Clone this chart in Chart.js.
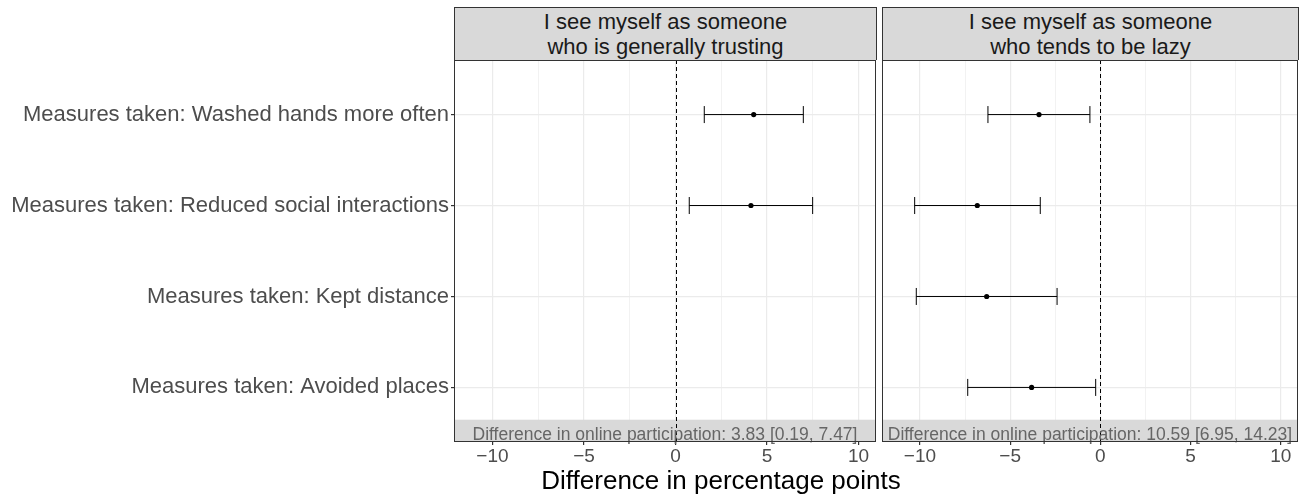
<!DOCTYPE html>
<html>
<head>
<meta charset="utf-8">
<script src="https://cdn.jsdelivr.net/npm/chart.js@4"></script>
<style>
  body { margin: 0; background: #fff; font-family: "Liberation Sans", Arial, sans-serif; }
  #wrap { position: relative; width: 1311px; height: 497px; overflow: hidden; }
  canvas { position: absolute; top: 0; }
  .strip {
    position: absolute; top: 7px; height: 53px; box-sizing: border-box;
    background: #d9d9d9; border: 1px solid #333; border-bottom: none;
    text-align: center; font-size: 22px; line-height: 24.5px; color: #1a1a1a; padding-top: 2px;
  }
  #xtitle {
    position: absolute; left: 421px; width: 600px; top: 467px;
    text-align: center; font-size: 26px; line-height: 26px; color: #000;
  }
</style>
</head>
<body>
<div id="wrap">
  <canvas id="trust" width="878" height="497" style="left:0"></canvas>
  <canvas id="lazy" width="431" height="497" style="left:880px"></canvas>
  <div class="strip" id="strip0" style="left:454px; width:423px"></div>
  <div class="strip" id="strip1" style="left:882px; width:417px"></div>
  <div id="xtitle">Difference in percentage points</div>
</div>
<script>
// data
const measures = [
  "Measures taken: Washed hands more often",
  "Measures taken: Reduced social interactions",
  "Measures taken: Kept distance",
  "Measures taken: Avoided places"
];
const panelTitles = [
  ["I see myself as someone", "who is generally trusting"],
  ["I see myself as someone", "who tends to be lazy"]
];
const trustEst  = [4.27, 4.12, null, null];
const trustLow  = [1.57, 0.75, null, null];
const trustHigh = [6.98, 7.49, null, null];
const lazyEst  = [-3.40, -6.82, -6.30, -3.81];
const lazyLow  = [-6.23, -10.29, -10.20, -7.35];
const lazyHigh = [-0.58, -3.33, -2.40, -0.26];
const onlineDiff = [3.83, 10.59];
const onlineLow  = [0.19, 6.95];
const onlineHigh = [7.47, 14.23];
const xGrid = [-10, -7.5, -5, -2.5, 0, 2.5, 5, 7.5, 10];

panelTitles.forEach((t, i) => {
  document.getElementById("strip" + i).innerHTML = t.join("<br>");
});

const FONT = "'Liberation Sans', Arial, sans-serif";

const fmt = v => (v < 0 ? "\u2212" + Math.abs(v) : String(v));

// grey band + dashed zero line + border
const panelDeco = {
  id: "panelDeco",
  beforeDatasetsDraw(chart, args, opts) {
    const { ctx, chartArea: a, scales: { x, y } } = chart;
    ctx.save();
    const bandTop = y.getPixelForValue(3.355);
    ctx.fillStyle = "#d9d9d9";
    ctx.fillRect(a.left, bandTop, a.right - a.left, a.bottom - bandTop);
    // zero line
    const x0 = Math.round(x.getPixelForValue(0)) + 0.5;
    ctx.strokeStyle = "#000";
    ctx.lineWidth = 1;
    ctx.setLineDash([4, 3]);
    ctx.beginPath();
    ctx.moveTo(x0, a.top);
    ctx.lineTo(x0, a.bottom);
    ctx.stroke();
    ctx.setLineDash([]);
    // band label
    const k = opts.idx;
    ctx.fillStyle = "#666";
    ctx.font = "17.5px " + FONT;
    ctx.textAlign = "center";
    ctx.textBaseline = "alphabetic";
    ctx.fillText(
      "Difference in online participation: " + onlineDiff[k].toFixed(2) +
      " [" + onlineLow[k].toFixed(2) + ", " + onlineHigh[k].toFixed(2) + "]",
      (a.left + a.right) / 2, y.getPixelForValue(3.578)
    );
    ctx.restore();
  },
  afterDraw(chart) {
    const { ctx, chartArea: a } = chart;
    ctx.save();
    ctx.strokeStyle = "#333";
    ctx.lineWidth = 1;
    ctx.strokeRect(a.left + 0.5, a.top + 0.5, a.right - a.left - 1, a.bottom - a.top - 1);
    ctx.restore();
  }
};

function makePanel(id, idx, est, low, high, showY) {
  const datasets = [];
  est.forEach((e, i) => {
    if (e === null) return;
    datasets.push({
      type: "scatter",
      data: [{ x: low[i], y: i }, { x: high[i], y: i }],
      showLine: true,
      borderColor: "#000",
      borderWidth: 1,
      pointStyle: "line",
      rotation: 90,
      pointRadius: 8.5,
      pointBorderColor: "#000",
      pointBorderWidth: 1
    });
  });
  datasets.push({
    type: "scatter",
    data: est.map((e, i) => (e === null ? null : { x: e, y: i })).filter(d => d),
    pointRadius: 2.6,
    pointBackgroundColor: "#000",
    pointBorderWidth: 0
  });

  return new Chart(document.getElementById(id), {
    type: "scatter",
    data: { datasets },
    plugins: [panelDeco],
    options: {
      responsive: false,
      animation: false,
      events: [],
      layout: {
        autoPadding: false,
        padding: showY ? { top: 60, right: 2 } : { top: 60, left: 2, right: 13 }
      },
      plugins: { legend: { display: false }, tooltip: { enabled: false }, panelDeco: { idx } },
      scales: {
        x: {
          type: "linear",
          min: -12.1,
          max: 10.95,
          afterBuildTicks: s => { s.ticks = xGrid.map(v => ({ value: v })); },
          afterFit: s => { s.height = 55; s.paddingLeft = 0; s.paddingRight = 0; },
          border: { display: false },
          grid: {
            color: c => (c.tick && c.tick.value % 5 === 0 ? "#ebebeb" : "#f2f2f2"),
            lineWidth: c => (c.tick && c.tick.value % 5 === 0 ? 1.2 : 1),
            tickLength: 3,
            tickColor: c => (c.tick && c.tick.value % 5 === 0 ? "#333" : "rgba(0,0,0,0)")
          },
          ticks: {
            autoSkip: false,
            maxRotation: 0,
            padding: 0,
            color: "#4d4d4d",
            font: { family: FONT, size: 19 },
            callback: v => (v % 5 === 0 ? fmt(v) : "")
          }
        },
        y: {
          type: "linear",
          reverse: true,
          min: -0.6,
          max: 3.6,
          afterBuildTicks: s => { s.ticks = measures.map((m, i) => ({ value: i })); },
          afterFit: s => { s.width = showY ? 454 : 0; s.paddingTop = 0; s.paddingBottom = 0; },
          border: { display: false },
          grid: { color: "#ebebeb", lineWidth: 1.2, tickLength: showY ? 3 : 0, tickColor: "#333" },
          ticks: {
            display: showY,
            autoSkip: false,
            padding: 2,
            color: "#4d4d4d",
            font: { family: FONT, size: 22 },
            callback: v => measures[v]
          }
        }
      }
    }
  });
}

makePanel("trust", 0, trustEst, trustLow, trustHigh, true);
makePanel("lazy", 1, lazyEst, lazyLow, lazyHigh, false);
</script>
</body>
</html>
